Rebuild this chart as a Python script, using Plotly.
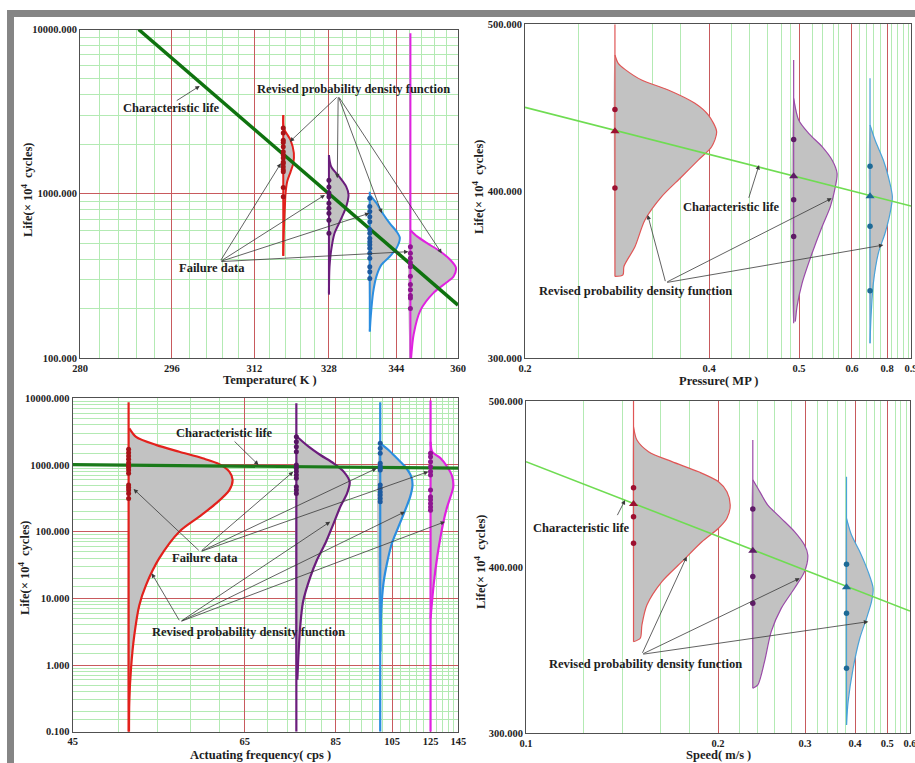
import numpy as np
import plotly.graph_objects as go

W, H = 915, 763
FONT = "Liberation Serif"
TXT = "#1e1e1e"
RED_GRID = "#c85a5d"
GREEN_GRID = "#b3eab3"
FILL = "#c2c2c2"
ARROW = "#3a3a3a"

# ---------------- Temperature stress (Arrhenius axis, 1/T) ----------------
temp_tick_labels = [280, 296, 312, 328, 344, 360]
temp_levels = [318, 328, 337.5, 347.5]
temp_char_T = [290, 360]
temp_char_life = [10000, 210]
temp_fail = [
    [2510, 2340, 2120, 2050, 1930, 1800, 1720, 1650, 1560, 1530, 1460, 1400, 1360, 1090, 960],
    [1210, 1100, 1010, 960, 875, 815, 760, 690, 575],
    [940, 835, 780, 725, 675, 605, 575, 535, 510, 490, 465, 435, 405, 360, 335, 305],
    [475, 435, 405, 380, 360, 315, 280, 260, 240, 232, 200],
]
temp_stem = [[3020, 418], [1720, 243], [1030, 145], [9500, 100]]
temp_pdf_life = [
    [3000, 2500, 2120, 1770, 1530, 1360, 1190, 1010, 830, 600, 420],
    [1720, 1460, 1270, 1105, 985, 835, 690, 575, 455, 360, 248],
    [985, 875, 775, 660, 590, 540, 470, 415, 370, 315, 250, 180, 145],
    [600, 550, 500, 445, 395, 355, 315, 290, 250, 195, 140, 100],
]
temp_pdf = [
    [0, 0.006, 0.073, 0.106, 0.100, 0.073, 0.040, 0.023, 0.016, 0.006, 0],
    [0, 0.023, 0.103, 0.173, 0.196, 0.173, 0.116, 0.056, 0.023, 0.006, 0],
    [0, 0.067, 0.12, 0.20, 0.267, 0.30, 0.27, 0.20, 0.117, 0.067, 0.033, 0.01, 0],
    [0, 0.067, 0.167, 0.30, 0.40, 0.455, 0.433, 0.367, 0.233, 0.10, 0.033, 0.007],
]

# ---------------- Pressure stress ----------------
pres_cal_val = [0.2, 0.3, 0.4, 0.5, 0.6, 0.8, 0.9]
pres_cal_pos = [0.0, 0.233, 0.477, 0.710, 0.847, 0.938, 1.0]
pres_tick_labels = [0.2, 0.4, 0.5, 0.6, 0.8, 0.9]
pres_minor = [0.26, 0.34, 0.37, 0.425, 0.445, 0.465, 0.48, 0.49, 0.525, 0.545,
              0.565, 0.575, 0.645, 0.685, 0.72, 0.76, 0.82, 0.845, 0.87, 0.89]
pres_levels = [0.3, 0.494, 0.703]
pres_char_P = [0.2, 0.9]
pres_char_life = [450.3, 391.2]
pres_fail = [[449, 402], [431, 395, 373], [415, 379, 340.5]]
pres_char_pts = [436, 409, 397]
pres_stem = [[500, 349], [478.6, 321], [467.7, 309]]
pres_pdf_life = [
    [481.6, 476.6, 473, 466.6, 460.7, 452.7, 445.7, 435.7, 426.7, 418.7, 408.7, 396.8, 382.8, 366.8, 355, 350, 349],
    [455.7, 442.7, 434.7, 426.7, 418.7, 410.8, 402.8, 390.8, 378.8, 362.9, 344.9, 331.1, 322],
    [439.7, 430.7, 418.7, 408.7, 396.8, 386.8, 374.9, 362.9, 344.9, 324.9, 309],
]
pres_pdf = [
    [0, 0.033, 0.10, 0.267, 0.533, 0.80, 0.933, 1.017, 0.967, 0.833, 0.667, 0.467, 0.30, 0.20, 0.09, 0.08, 0],
    [0, 0.05, 0.15, 0.284, 0.384, 0.434, 0.417, 0.367, 0.284, 0.184, 0.084, 0.034, 0.017],
    [0, 0.05, 0.133, 0.183, 0.223, 0.20, 0.15, 0.083, 0.033, 0.01, 0],
]

# ---------------- Actuating frequency stress (reciprocal axis) ----------------
freq_tick_labels = [45, 65, 85, 105, 125, 145]
freq_levels = [50, 75, 100, 125]
freq_char_f = [45, 145]
freq_char_life = [1010, 900]
freq_fail = [
    [1720, 1530, 1360, 1220, 1080, 1000, 925, 840, 750, 500, 460, 420, 375, 315],
    [2650, 2230, 1880, 1580, 1000, 890, 795, 710, 630, 470, 420, 375],
    [2110, 1780, 1500, 1060, 965, 890, 840, 500, 445, 395, 355, 315, 280],
    [1500, 1330, 1120, 940, 795, 710, 420, 335, 300, 265, 235, 210],
]
freq_stem = [[8700, 0.1], [8400, 0.1], [8700, 0.1], [9300, 0.1]]
freq_pdf_life = [
    [3550, 2650, 2000, 1580, 1260, 1030, 795, 600, 420, 265, 168, 100, 40, 15.8, 7.9, 2.8, 0.89, 0.28, 0.1],
    [2650, 1880, 1410, 1060, 795, 560, 375, 237, 133, 67, 38, 21, 8.9, 4.0, 1.6, 0.6],
    [2110, 1680, 1260, 940, 670, 500, 335, 210, 119, 67, 33, 17, 6.3, 1.6],
    [2230, 1580, 1260, 940, 670, 470, 335, 237, 150, 84, 42, 17, 5],
]
freq_pdf = [
    [0.007, 0.074, 0.274, 0.507, 0.74, 0.907, 1.007, 1.04, 1.007, 0.874, 0.707, 0.507, 0.307, 0.174, 0.107, 0.057, 0.024, 0.007, 0.004],
    [0.007, 0.123, 0.24, 0.373, 0.473, 0.533, 0.507, 0.44, 0.373, 0.29, 0.207, 0.14, 0.067, 0.04, 0.023, 0.01],
    [0, 0.083, 0.167, 0.25, 0.31, 0.323, 0.30, 0.25, 0.183, 0.117, 0.067, 0.033, 0.01, 0.003],
    [0, 0.017, 0.10, 0.167, 0.217, 0.227, 0.20, 0.167, 0.133, 0.10, 0.067, 0.033, 0],
]

# ---------------- Speed stress ----------------
speed_cal_val = [0.1, 0.2, 0.3, 0.4, 0.5, 0.6]
speed_cal_pos = [0.0, 0.5, 0.7266, 0.8568, 0.9409, 1.0]
speed_tick_labels = [0.1, 0.2, 0.3, 0.4, 0.5, 0.6]
speed_minor = [0.13, 0.15, 0.17, 0.185, 0.225, 0.245, 0.265, 0.285, 0.325, 0.345,
               0.365, 0.38, 0.435, 0.46, 0.48, 0.535, 0.56, 0.585]
speed_levels = [0.156, 0.24, 0.383]
speed_char_S = [0.1, 0.6]
speed_char_life = [463.5, 373.6]
speed_fail = [[447.8, 430.4, 414.4], [435, 394.3, 378.2], [401.7, 372.2, 339.1]]
speed_char_pts = [438, 409.9, 387.9]
speed_stem = [[500, 355.1], [476.5, 327.1], [454.4, 305]]
speed_pdf_life = [
    [484.5, 476.5, 469.5, 463.5, 457.4, 451.4, 445.4, 437.4, 429.4, 423.4, 415.3, 403.3, 391.3, 377.2, 365.2, 357.2, 355.1],
    [452.5, 447.5, 437.4, 429.4, 421.4, 413.3, 407.3, 397.3, 387.3, 375.2, 361.2, 343.1, 329.1, 327.1],
    [429.4, 419.3, 409.3, 397.3, 387.3, 379.2, 369.2, 357.2, 339.1, 319, 305],
]
speed_pdf = [
    [0, 0.034, 0.15, 0.384, 0.65, 0.85, 0.934, 0.967, 0.934, 0.85, 0.684, 0.484, 0.284, 0.134, 0.084, 0.067, 0],
    [0, 0.05, 0.15, 0.284, 0.417, 0.517, 0.55, 0.517, 0.417, 0.284, 0.184, 0.117, 0.05, 0],
    [0, 0.05, 0.133, 0.216, 0.266, 0.25, 0.20, 0.133, 0.066, 0.016, 0],
]

# ---------------- styling ----------------
LOG_COLORS = ["#e3211c", "#6b1d7c", "#2b8ee0", "#e022e0"]
LOG_MARKS = ["#a81418", "#561563", "#1d5aa0", "#8e1690"]
LIN_COLORS = ["#e05656", "#9a4aa8", "#4aa2d8"]
LIN_MARKS = ["#9c1030", "#5e1c66", "#1d6a96"]

# plot-area boxes in pixels: (left, right, top, bottom)
BOX = {
    "temp": (80, 458, 29.5, 358),
    "pres": (525, 911, 24.3, 358.3),
    "freq": (72.7, 458.3, 398.3, 731.7),
    "speed": (526, 910, 401, 733.3),
}
PDF_PX = 100.0  # pixels per unit of relative density


def dom_x(b):
    return [b[0] / W, b[1] / W]


def dom_y(b):
    return [1 - b[3] / H, 1 - b[2] / H]


def temp_x(t):
    return 1000.0 / np.asarray(t, dtype=float)


def freq_x(f):
    return 1000.0 / np.asarray(f, dtype=float)


def pres_x(p):
    return np.interp(p, pres_cal_val, pres_cal_pos)


def speed_x(s):
    return np.interp(s, speed_cal_val, speed_cal_pos)


temp_range = [1000 / 280, 1000 / 360]
freq_range = [1000 / 45, 1000 / 145]
step_temp = -PDF_PX * (temp_range[0] - temp_range[1]) / (BOX["temp"][1] - BOX["temp"][0])
step_freq = -PDF_PX * (freq_range[0] - freq_range[1]) / (BOX["freq"][1] - BOX["freq"][0])
step_pres = PDF_PX / (BOX["pres"][1] - BOX["pres"][0])
step_speed = PDF_PX / (BOX["speed"][1] - BOX["speed"][0])

fig = go.Figure()


def add_pdfs(xa, ya, to_x, step, levels, stems, lives, dens, colors, lw):
    for i, lvl in enumerate(levels):
        x0 = float(to_x(lvl))
        xs = x0 + step * np.asarray(dens[i], dtype=float)
        ys = np.asarray(lives[i], dtype=float)
        fig.add_trace(go.Scatter(
            x=np.r_[xs, x0, x0], y=np.r_[ys, ys[-1], ys[0]], fill="toself",
            fillcolor=FILL, mode="lines", line=dict(width=0, color=FILL, shape="spline", smoothing=0.6),
            xaxis=xa, yaxis=ya, hoverinfo="skip", showlegend=False))
        fig.add_trace(go.Scatter(
            x=[x0, x0], y=stems[i], mode="lines", line=dict(color=colors[i], width=lw),
            xaxis=xa, yaxis=ya, hoverinfo="skip", showlegend=False))
        fig.add_trace(go.Scatter(
            x=xs, y=ys, mode="lines", line=dict(color=colors[i], width=lw, shape="spline", smoothing=0.8),
            xaxis=xa, yaxis=ya, hoverinfo="skip", showlegend=False))


def add_points(xa, ya, to_x, levels, values, colors, size, symbol="circle"):
    for i, lvl in enumerate(levels):
        vals = values[i] if isinstance(values[i], (list, tuple)) else [values[i]]
        fig.add_trace(go.Scatter(
            x=[float(to_x(lvl))] * len(vals), y=vals, mode="markers",
            marker=dict(color=colors[i], size=size, symbol=symbol, line=dict(width=0)),
            xaxis=xa, yaxis=ya, hoverinfo="skip", showlegend=False))


def add_char_line(xa, ya, to_x, xs, ys, color, width):
    fig.add_trace(go.Scatter(
        x=to_x(xs), y=ys, mode="lines", line=dict(color=color, width=width),
        xaxis=xa, yaxis=ya, hoverinfo="skip", showlegend=False))


# temperature panel
add_pdfs("x", "y", temp_x, step_temp, temp_levels, temp_stem, temp_pdf_life, temp_pdf, LOG_COLORS, 2)
add_char_line("x", "y", temp_x, temp_char_T, temp_char_life, "#0f730f", 3.5)
add_points("x", "y", temp_x, temp_levels, temp_fail, LOG_MARKS, 5)

# pressure panel
add_pdfs("x2", "y2", pres_x, step_pres, pres_levels, pres_stem, pres_pdf_life, pres_pdf, LIN_COLORS, 1.2)
add_char_line("x2", "y2", pres_x, pres_char_P, pres_char_life, "#6fdc52", 1.6)
add_points("x2", "y2", pres_x, pres_levels, pres_fail, LIN_MARKS, 5.5)
add_points("x2", "y2", pres_x, pres_levels, pres_char_pts, LIN_MARKS, 8, "triangle-up")

# frequency panel
add_pdfs("x3", "y3", freq_x, step_freq, freq_levels, freq_stem, freq_pdf_life, freq_pdf, LOG_COLORS, 2.2)
add_char_line("x3", "y3", freq_x, freq_char_f, freq_char_life, "#1a7a1a", 3.2)
add_points("x3", "y3", freq_x, freq_levels, freq_fail, LOG_MARKS, 5)

# speed panel
add_pdfs("x4", "y4", speed_x, step_speed, speed_levels, speed_stem, speed_pdf_life, speed_pdf, LIN_COLORS, 1.2)
add_char_line("x4", "y4", speed_x, speed_char_S, speed_char_life, "#6fdc52", 1.6)
add_points("x4", "y4", speed_x, speed_levels, speed_fail, LIN_MARKS, 5.5)
add_points("x4", "y4", speed_x, speed_levels, speed_char_pts, LIN_MARKS, 8, "triangle-up")

# ---------------- axes ----------------
TICKFONT = dict(family=FONT, size=10.5, color=TXT, weight="bold")


def base_axis(**kw):
    d = dict(showline=True, linecolor="#505050", linewidth=1, mirror=True,
             ticks="", tickfont=TICKFONT, automargin=False,
             zeroline=False, showgrid=True, gridcolor=RED_GRID, gridwidth=1,
             ticklabeloverflow="allow", layer="below traces")
    d.update(kw)
    return d


def minor(vals):
    return dict(tickmode="array", tickvals=list(vals), showgrid=True,
                gridcolor=GREEN_GRID, gridwidth=1, ticks="")


def log_minor(lo, hi, mults):
    return [m * 10.0 ** e for e in range(lo, hi) for m in mults]


temp_minor_T = [280 + 3.2 * k for k in range(26) if (k % 5) != 0]

layout_axes = dict(
    xaxis=base_axis(domain=dom_x(BOX["temp"]), anchor="y", range=temp_range,
                    tickmode="array", tickvals=list(temp_x(temp_tick_labels)),
                    ticktext=[str(t) for t in temp_tick_labels],
                    minor=minor(temp_x(temp_minor_T))),
    yaxis=base_axis(domain=dom_y(BOX["temp"]), anchor="x", type="log", range=[2, 4],
                    tickmode="array", tickvals=[100, 1000, 10000],
                    ticktext=["%.3f" % v for v in [100, 1000, 10000]],
                    minor=minor(log_minor(2, 4, range(2, 10)))),
    xaxis2=base_axis(domain=dom_x(BOX["pres"]), anchor="y2", range=[0, 1],
                     tickmode="array", tickvals=list(pres_x(pres_tick_labels)),
                     ticktext=["%g" % v for v in pres_tick_labels],
                     minor=minor(pres_x(pres_minor))),
    yaxis2=base_axis(domain=dom_y(BOX["pres"]), anchor="x2", range=[300, 500],
                     tickmode="array", tickvals=[300, 400, 500],
                     ticktext=["%.3f" % v for v in [300, 400, 500]], showgrid=False),
    xaxis3=base_axis(domain=dom_x(BOX["freq"]), anchor="y3", range=freq_range,
                     tickmode="array", tickvals=list(freq_x(freq_tick_labels)),
                     ticktext=[str(f) for f in freq_tick_labels],
                     minor=minor(freq_x([f for f in range(49, 145, 4) if (f - 45) % 20 != 0]))),
    yaxis3=base_axis(domain=dom_y(BOX["freq"]), anchor="x3", type="log", range=[-1, 4],
                     tickmode="array", tickvals=[0.1, 1, 10, 100, 1000, 10000],
                     ticktext=["%.3f" % v for v in [0.1, 1, 10, 100, 1000, 10000]],
                     minor=minor(log_minor(-1, 4, [1.5, 2, 3, 4, 5, 6, 7, 8, 9]))),
    xaxis4=base_axis(domain=dom_x(BOX["speed"]), anchor="y4", range=[0, 1],
                     tickmode="array", tickvals=list(speed_x(speed_tick_labels)),
                     ticktext=["%g" % v for v in speed_tick_labels],
                     minor=minor(speed_x(speed_minor))),
    yaxis4=base_axis(domain=dom_y(BOX["speed"]), anchor="x4", range=[300, 500],
                     tickmode="array", tickvals=[300, 400, 500],
                     ticktext=["%.3f" % v for v in [300, 400, 500]], showgrid=False),
)

# ---------------- annotations ----------------
ANN_FONT = dict(family=FONT, size=12.5, color=TXT, weight="bold")
annotations = []


def label(xa, ya, x, y, text):
    annotations.append(dict(x=x, y=y, xref=xa, yref=ya, text=text, showarrow=False,
                            font=ANN_FONT, xanchor="center", yanchor="middle"))


def arrow(xa, ya, x, y, ax, ay):
    annotations.append(dict(x=x, y=y, ax=ax, ay=ay, xref=xa, yref=ya, axref=xa, ayref=ya,
                            text="", showarrow=True, arrowhead=2, arrowsize=1.1,
                            arrowwidth=0.8, arrowcolor=ARROW, standoff=0, startstandoff=0))


def lg(v):
    return float(np.log10(v))


# temperature panel call-outs
label("x", "y", float(temp_x(295.9)), lg(3314), "Characteristic life")
arrow("x", "y", float(temp_x(301.2)), lg(4530), float(temp_x(296.6)), lg(3640))
label("x", "y", float(temp_x(333.6)), lg(4325), "Revised probability density function")
for T, L in [(319.4, 2075), (329.9, 1243), (340.4, 761), (355.6, 434)]:
    arrow("x", "y", float(temp_x(T)), lg(L), float(temp_x(330.1)), lg(3940))
label("x", "y", float(temp_x(303.6)), lg(352), "Failure data")
for T, L in [(317.5, 1534), (327.1, 984), (337.4, 761), (347.0, 444)]:
    arrow("x", "y", float(temp_x(T)), lg(L), float(temp_x(305.1)), lg(386))

# frequency panel call-outs
label("x3", "y3", float(freq_x(61.8)), lg(3048), "Characteristic life")
arrow("x3", "y3", float(freq_x(67.4)), lg(1000), float(freq_x(63.1)), lg(2368))
label("x3", "y3", float(freq_x(59.0)), lg(39.8), "Failure data")
for f, L in [(50.5, 436), (74.3, 793), (98.6, 891), (123.6, 793)]:
    arrow("x3", "y3", float(freq_x(f)), lg(L), float(freq_x(58.3)), lg(50))
label("x3", "y3", float(freq_x(65.6)), lg(3.16), "Revised probability density function")
for f, L in [(52.4, 23.7), (83.4, 141), (110.9, 199), (134.7, 141)]:
    arrow("x3", "y3", float(freq_x(f)), lg(L), float(freq_x(55.7)), lg(4.46))

# pressure panel call-outs
label("x2", "y2", float(pres_x(0.4245)), 390.8, "Characteristic life")
arrow("x2", "y2", float(pres_x(0.4555)), 415.7, float(pres_x(0.4436)), 395.2)
label("x2", "y2", float(pres_x(0.3223)), 340.3, "Revised probability density function")
for p, L in [(0.3348, 385.8), (0.5617, 395.8), (0.7788, 367.8)]:
    arrow("x2", "y2", float(pres_x(p)), L, float(pres_x(0.3539)), 345.3)

# speed panel call-outs
label("x4", "y4", float(speed_x(0.129)), 423.7, "Characteristic life")
arrow("x4", "y4", float(speed_x(0.1516)), 440.4, float(speed_x(0.1472)), 430.4)
label("x4", "y4", float(speed_x(0.162)), 341.5, "Revised probability density function")
for s, L in [(0.1837, 406.3), (0.2939, 393.3), (0.4411, 367.2)]:
    arrow("x4", "y4", float(speed_x(s)), L, float(speed_x(0.1603)), 347.5)

# axis titles
TITLE_FONT = dict(family=FONT, size=12.5, color=TXT, weight="bold")
LIFE_TITLE = "Life(× 10<sup>4</sup>&nbsp;&nbsp;cycles)"
for (px, py, txt, ang) in [
    (270, 380, "Temperature( K )", 0),
    (718, 381, "Pressure( MP )", 0),
    (260, 755, "Actuating frequency( cps )", 0),
    (718, 755, "Speed( m/s )", 0),
    (27, 190, LIFE_TITLE, -90),
    (478, 187, LIFE_TITLE, -90),
    (24, 568, LIFE_TITLE, -90),
    (480, 562, LIFE_TITLE, -90),
]:
    annotations.append(dict(x=px / W, y=1 - py / H, xref="paper", yref="paper", text=txt,
                            showarrow=False, font=TITLE_FONT, textangle=ang,
                            xanchor="center", yanchor="middle"))

# window frame
shapes = [
    dict(type="rect", xref="paper", yref="paper", x0=7 / W, x1=1, y0=1 - 17 / H, y1=1 - 10 / H,
         fillcolor="#858585", line=dict(width=0), layer="above"),
    dict(type="rect", xref="paper", yref="paper", x0=7 / W, x1=14 / W, y0=0, y1=1 - 10 / H,
         fillcolor="#858585", line=dict(width=0), layer="above"),
]

fig.update_layout(
    width=W, height=H, margin=dict(l=0, r=0, t=0, b=0, pad=0, autoexpand=False),
    paper_bgcolor="white", plot_bgcolor="white", showlegend=False,
    annotations=annotations, shapes=shapes, **layout_axes,
)

fig.write_html("out.html")
